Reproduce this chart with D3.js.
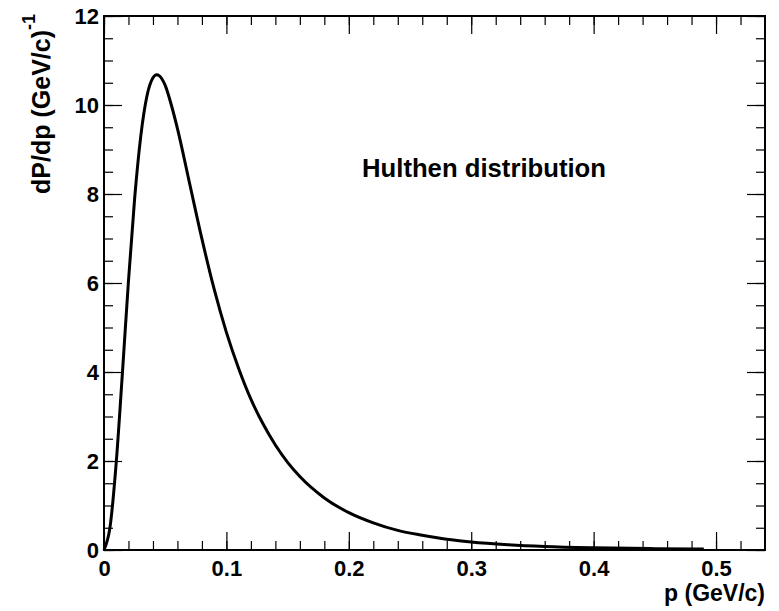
<!DOCTYPE html>
<html>
<head>
<meta charset="utf-8">
<script src="https://cdn.jsdelivr.net/npm/d3@7"></script>
<style>
  html, body { margin: 0; padding: 0; background: #fff; }
  svg { display: block; }
  text { font-family: "Liberation Sans", Arial, Helvetica, sans-serif; font-weight: bold; fill: #000; }
</style>
</head>
<body>
<svg id="chart" width="779" height="611"></svg>
<script>
// Hulthen momentum distribution of the nucleon in the deuteron
const momentum = [0, 0.005, 0.01, 0.015, 0.02, 0.025, 0.03, 0.035, 0.04, 0.043, 0.045, 0.05,
  0.055, 0.06, 0.07, 0.08, 0.09, 0.10, 0.11, 0.12, 0.13, 0.14, 0.15, 0.16, 0.18, 0.20,
  0.22, 0.24, 0.26, 0.28, 0.30, 0.33, 0.36, 0.40, 0.45, 0.49];
const density = [0, 0.53, 1.97, 3.96, 6.05, 7.89, 9.29, 10.19, 10.61, 10.68, 10.66, 10.44,
  10.0, 9.47, 8.23, 6.99, 5.86, 4.89, 4.08, 3.39, 2.83, 2.36, 1.97, 1.65, 1.17, 0.84,
  0.61, 0.44, 0.33, 0.24, 0.18, 0.12, 0.08, 0.05, 0.03, 0.02];

const xMajor = [0, 0.1, 0.2, 0.3, 0.4, 0.5];
const xMajorLabels = ["0", "0.1", "0.2", "0.3", "0.4", "0.5"];
const yMajor = [0, 2, 4, 6, 8, 10, 12];
const yMajorLabels = ["0", "2", "4", "6", "8", "10", "12"];
const xMinor = d3.range(0, 27).map(i => +(i * 0.02).toFixed(2));
const yMinor = d3.range(0, 25).map(i => i * 0.5);

(function () {
  const svg = d3.select("#chart");
  const frameL = 104, frameR = 765, frameT = 16, frameB = 550;

  const x = d3.scaleLinear().domain([0, 0.54]).range([frameL, frameR]);
  const y = d3.scaleLinear().domain([0, 12]).range([frameB, frameT]);

  const majorLen = 18, minorLen = 9;

  function tickAxis(axisFn, scale, values, len, labels) {
    const a = axisFn(scale).tickValues(values).tickSizeInner(-len).tickSizeOuter(0);
    if (labels) a.tickFormat((d, i) => labels[i]); else a.tickFormat("");
    return a;
  }

  function drawAxis(axisFn, scale, translate, withLabels) {
    const g = svg.append("g").attr("transform", translate);
    const minorValues = scale === x ? xMinor : yMinor;
    const majorValues = scale === x ? xMajor : yMajor;
    const labels = withLabels ? (scale === x ? xMajorLabels : yMajorLabels) : null;
    g.append("g").call(tickAxis(axisFn, scale, minorValues, minorLen, null));
    const gm = g.append("g").call(tickAxis(axisFn, scale, majorValues, majorLen, labels));
    g.selectAll(".domain").remove();
    g.selectAll("line").attr("stroke", "#000").attr("stroke-width", 1.2);
    return gm;
  }

  // bottom axis with labels
  const gb = drawAxis(d3.axisBottom, x, `translate(0,${frameB})`, true);
  gb.selectAll("text").attr("font-size", 22).attr("y", 10).attr("dy", "0.71em");
  // top axis (mirrored ticks)
  drawAxis(d3.axisTop, x, `translate(0,${frameT})`, false);
  // left axis with labels
  const gl = drawAxis(d3.axisLeft, y, `translate(${frameL},0)`, true);
  gl.selectAll("text").attr("font-size", 22).attr("x", -5).attr("dy", "0.36em");
  // right axis (mirrored ticks)
  drawAxis(d3.axisRight, y, `translate(${frameR},0)`, false);

  // frame
  svg.append("rect")
    .attr("x", frameL).attr("y", frameT)
    .attr("width", frameR - frameL).attr("height", frameB - frameT)
    .attr("fill", "none").attr("stroke", "#000").attr("stroke-width", 2);

  // distribution curve
  const pts = momentum.map((p, i) => [p, density[i]]);
  const line = d3.line().x(d => x(d[0])).y(d => y(d[1])).curve(d3.curveMonotoneX);
  svg.append("path")
    .attr("d", line(pts))
    .attr("fill", "none")
    .attr("stroke", "#000")
    .attr("stroke-width", 3)
    .attr("stroke-linejoin", "round");

  // axis titles
  svg.append("text")
    .attr("x", frameR).attr("y", 601)
    .attr("text-anchor", "end")
    .attr("font-size", 23)
    .text("p (GeV/c)");

  const yt = svg.append("text")
    .attr("transform", `translate(50,${frameT - 2}) rotate(-90)`)
    .attr("text-anchor", "end")
    .attr("font-size", 25);
  yt.append("tspan").text("dP/dp (GeV/c)");
  yt.append("tspan").attr("dy", -15).attr("font-size", 18).text("-1");

  // plot label
  svg.append("text")
    .attr("x", 362).attr("y", 177)
    .attr("font-size", 25.7)
    .text("Hulthen distribution");
})();
</script>
</body>
</html>
